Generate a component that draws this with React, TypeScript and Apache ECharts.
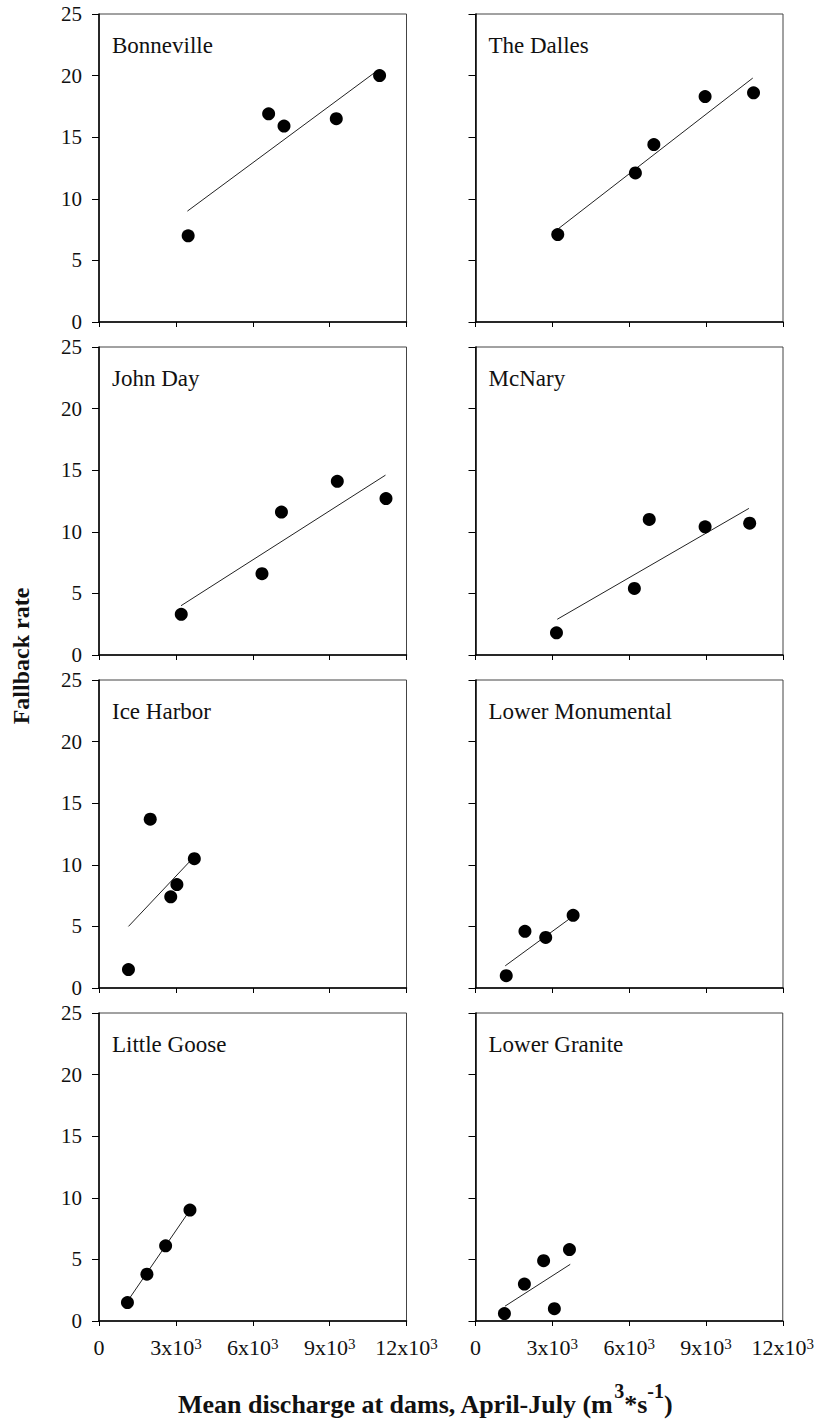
import React, { useEffect, useRef } from 'react';
import * as echarts from 'echarts';

// ---- Data ----
const damNames = ['Bonneville', 'The Dalles', 'John Day', 'McNary', 'Ice Harbor', 'Lower Monumental', 'Little Goose', 'Lower Granite'];

const bonnevilleX = [3480, 6620, 7220, 9260, 10950];
const bonnevilleY = [7.0, 16.9, 15.9, 16.5, 20.0];
const bonnevilleFitX = [3450, 10730];
const bonnevilleFitY = [9.0, 20.2];

const theDallesX = [3210, 6240, 6960, 8960, 10850];
const theDallesY = [7.1, 12.1, 14.4, 18.3, 18.6];
const theDallesFitX = [3250, 10820];
const theDallesFitY = [7.6, 19.8];

const johnDayX = [3210, 6360, 7120, 9300, 11200];
const johnDayY = [3.3, 6.6, 11.6, 14.1, 12.7];
const johnDayFitX = [3200, 11180];
const johnDayFitY = [4.0, 14.6];

const mcNaryX = [3160, 6200, 6780, 8960, 10700];
const mcNaryY = [1.8, 5.4, 11.0, 10.4, 10.7];
const mcNaryFitX = [3190, 10670];
const mcNaryFitY = [2.9, 11.9];

const iceHarborX = [1150, 2000, 2800, 3040, 3720];
const iceHarborY = [1.5, 13.7, 7.4, 8.4, 10.5];
const iceHarborFitX = [1150, 3600];
const iceHarborFitY = [5.0, 10.4];

const lowerMonumentalX = [1200, 1930, 2740, 3810];
const lowerMonumentalY = [1.0, 4.6, 4.1, 5.9];
const lowerMonumentalFitX = [1160, 3790];
const lowerMonumentalFitY = [1.8, 5.8];

const littleGooseX = [1110, 1870, 2600, 3550];
const littleGooseY = [1.5, 3.8, 6.1, 9.0];
const littleGooseFitX = [1110, 3550];
const littleGooseFitY = [1.6, 9.0];

const lowerGraniteX = [1130, 1910, 2660, 3080, 3670];
const lowerGraniteY = [0.6, 3.0, 4.9, 1.0, 5.8];
const lowerGraniteFitX = [1150, 3700];
const lowerGraniteFitY = [1.2, 4.6];

const xTickMin = 0;
const xTickMax = 12000;
const xTickStep = 3000;
const yTickMin = 0;
const yTickMax = 25;
const yTickStep = 5;

const yAxisTitle = 'Fallback rate';

const panels = [
  { name: damNames[0], x: bonnevilleX, y: bonnevilleY, fx: bonnevilleFitX, fy: bonnevilleFitY },
  { name: damNames[1], x: theDallesX, y: theDallesY, fx: theDallesFitX, fy: theDallesFitY },
  { name: damNames[2], x: johnDayX, y: johnDayY, fx: johnDayFitX, fy: johnDayFitY },
  { name: damNames[3], x: mcNaryX, y: mcNaryY, fx: mcNaryFitX, fy: mcNaryFitY },
  { name: damNames[4], x: iceHarborX, y: iceHarborY, fx: iceHarborFitX, fy: iceHarborFitY },
  { name: damNames[5], x: lowerMonumentalX, y: lowerMonumentalY, fx: lowerMonumentalFitX, fy: lowerMonumentalFitY },
  { name: damNames[6], x: littleGooseX, y: littleGooseY, fx: littleGooseFitX, fy: littleGooseFitY },
  { name: damNames[7], x: lowerGraniteX, y: lowerGraniteY, fx: lowerGraniteFitX, fy: lowerGraniteFitY },
];

// ---- Layout ----
const FONT = "'Liberation Serif', 'Times New Roman', serif";
const colLeft = [99, 475.5];
const rowTop = [14, 347, 680, 1013];
const plotW = 307.5;
const plotH = 308;

export default function App() {
  const ref = useRef<HTMLDivElement>(null);

  useEffect(() => {
    if (!ref.current) return;
    const chart = echarts.init(ref.current, null, { renderer: 'svg' });

    const grids = panels.map((p, i) => ({
      left: colLeft[i % 2],
      top: rowTop[Math.floor(i / 2)],
      width: plotW,
      height: plotH,
      show: true,
      borderColor: '#444',
      borderWidth: 1,
      containLabel: false,
    }));

    const xAxes = panels.map((p, i) => {
      const row = Math.floor(i / 2);
      return {
        gridIndex: i,
        type: 'value',
        min: xTickMin,
        max: xTickMax,
        interval: xTickStep,
        axisLine: { show: true, onZero: false, lineStyle: { color: '#000', width: 1.5 } },
        axisTick: { show: true, inside: false, length: 5, lineStyle: { color: '#000', width: 1 } },
        splitLine: { show: false },
        axisLabel: {
          show: row === 3,
          margin: 15,
          showMinLabel: true,
          showMaxLabel: true,
          formatter: (v: number) => (v === 0 ? '{m|0}' : `{m|${v / 1000}x10}{s|3}`),
          rich: {
            m: { fontSize: 22, fontFamily: FONT, color: '#111', lineHeight: 23 },
            s: { fontSize: 15, fontFamily: FONT, color: '#111', lineHeight: 15, verticalAlign: 'top' },
          },
        },
      };
    });

    const yAxes = panels.map((p, i) => ({
      gridIndex: i,
      type: 'value',
      min: yTickMin,
      max: yTickMax,
      interval: yTickStep,
      axisLine: { show: true, onZero: false, lineStyle: { color: '#000', width: 1.5 } },
      axisTick: { show: true, inside: false, length: 7, lineStyle: { color: '#000', width: 1 } },
      splitLine: { show: false },
      axisLabel: {
        show: i % 2 === 0,
        margin: 17,
        fontSize: 21,
        fontFamily: FONT,
        color: '#111',
      },
    }));

    const series: any[] = [];
    panels.forEach((p, i) => {
      series.push({
        type: 'line',
        xAxisIndex: i,
        yAxisIndex: i,
        data: p.fx.map((xv, k) => [xv, p.fy[k]]),
        symbol: 'none',
        showSymbol: false,
        lineStyle: { color: '#222', width: 1 },
        z: 2,
        silent: true,
      });
      series.push({
        type: 'scatter',
        xAxisIndex: i,
        yAxisIndex: i,
        data: p.x.map((xv, k) => [xv, p.y[k]]),
        symbol: 'circle',
        symbolSize: 13,
        itemStyle: { color: '#000', opacity: 1 },
        z: 3,
        silent: true,
      });
    });

    const titles = panels.map((p, i) => ({
      text: p.name,
      left: colLeft[i % 2] + 13,
      top: rowTop[Math.floor(i / 2)] + 20,
      padding: 0,
      textStyle: { fontSize: 23, fontWeight: 'normal', fontFamily: FONT, color: '#111' },
    }));

    chart.setOption({
      animation: false,
      backgroundColor: '#fff',
      title: titles,
      grid: grids,
      xAxis: xAxes,
      yAxis: yAxes,
      series,
      graphic: [
        {
          type: 'text',
          x: 21,
          y: 656,
          rotation: Math.PI / 2,
          style: {
            text: yAxisTitle,
            fontSize: 24,
            fontWeight: 'bold',
            fontFamily: FONT,
            fill: '#111',
            align: 'center',
            verticalAlign: 'middle',
            textAlign: 'center',
            textVerticalAlign: 'middle',
          },
        },
        {
          type: 'text',
          x: 178,
          y: 1399,
          style: {
            text: '{m|Mean discharge at dams, April-July (m}{s|3}{m|*s}{s|-1}{m|)}{h| }',
            fill: '#111',
            align: 'left',
            verticalAlign: 'middle',
            textAlign: 'left',
            textVerticalAlign: 'middle',
            rich: {
              m: { fontSize: 26, fontWeight: 'bold', fontFamily: FONT, color: '#111', lineHeight: 27, verticalAlign: 'bottom' },
              s: { fontSize: 20, fontWeight: 'bold', fontFamily: FONT, color: '#111', lineHeight: 20, verticalAlign: 'top' },
              h: { fontSize: 4, lineHeight: 37, fontFamily: FONT },
            },
          },
        },
      ],
    });

    return () => chart.dispose();
  }, []);

  return <div ref={ref} style={{ position: 'absolute', left: 0, top: 0, width: 817, height: 1424 }} />;
}
